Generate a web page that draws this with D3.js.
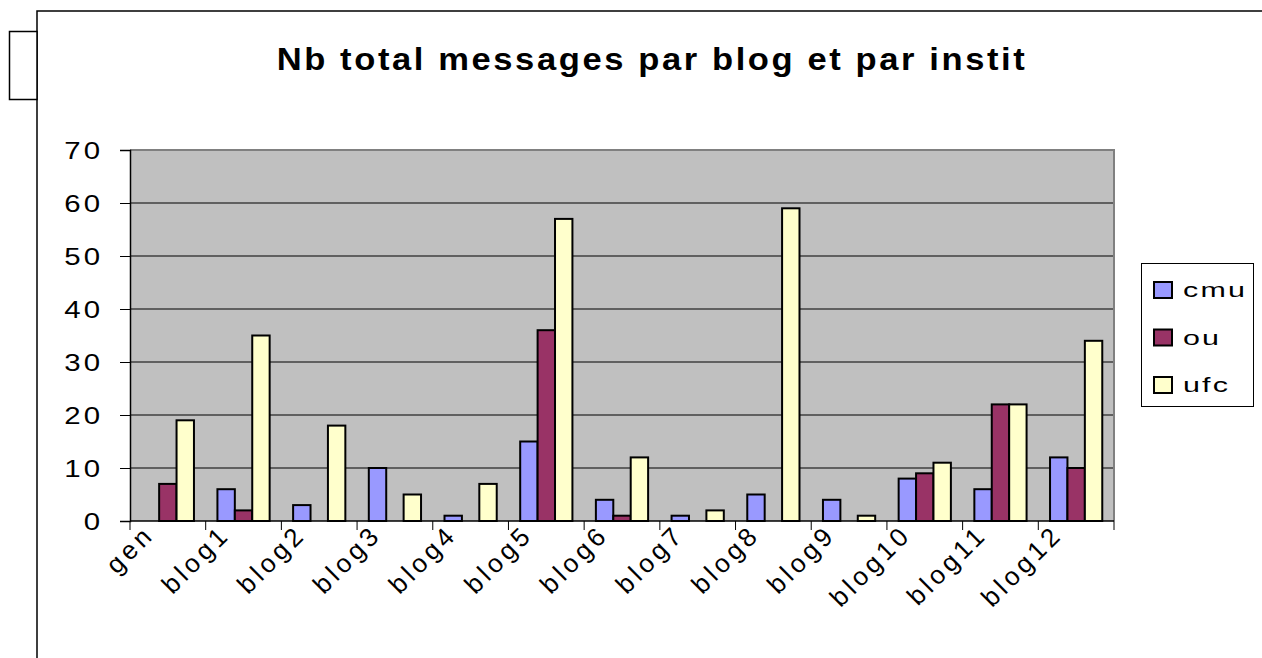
<!DOCTYPE html>
<html>
<head>
<meta charset="utf-8">
<script src="https://cdn.jsdelivr.net/npm/d3@7"></script>
<style>
  body { margin: 0; background: #fff; }
  svg { display: block; font-family: Arial, "Liberation Sans", sans-serif; }
</style>
</head>
<body>
<svg id="chart" width="1262" height="658"></svg>
<script>
'use strict'

const categories = ["gen","blog1","blog2","blog3","blog4","blog5","blog6","blog7","blog8","blog9","blog10","blog11","blog12"]
const seriesNames = ["cmu","ou","ufc"]
const cmu = [0,6,3,10,1,15,4,1,5,4,8,6,12]
const ou  = [7,2,0,0,0,36,1,0,0,0,9,22,10]
const ufc = [19,35,18,5,7,57,12,2,59,1,11,22,34]
const yTicks = [0,10,20,30,40,50,60,70]
const colors = {cmu:"#9999FF", ou:"#993366", ufc:"#FFFFCC"}

const values = {cmu, ou, ufc}
const rows = categories.map((c,i) => ({cat:c, vals: seriesNames.map(s => ({key:s, value:values[s][i]}))}))

const svg = d3.select("#chart")
const plot = {left:130, right:1114, top:150, bottom:521}

// the source renders its text wide, so stretch glyphs a bit horizontally
function wideText(parent, x, y, sx, txt){
  return parent.append("text")
    .attr("transform",`translate(${x},${y}) scale(${sx},1)`)
    .text(txt)
}

// outer frame bits (top + left edge of the chart area, small box at left)
svg.append("path").attr("d","M37,658 L37,11 L1262,11")
  .attr("fill","none").attr("stroke","#000").attr("stroke-width",1.5)
svg.append("rect").attr("x",9.5).attr("y",31.5).attr("width",27.5).attr("height",68)
  .attr("fill","#fff").attr("stroke","#000").attr("stroke-width",1.5)

wideText(svg, 652, 70, 1.08, "Nb total messages par blog et par instit")
  .attr("text-anchor","middle")
  .attr("font-size",32).attr("font-weight","bold").attr("letter-spacing",2.4)

const x0 = d3.scaleBand().domain(categories).range([plot.left,plot.right]).paddingInner(0.31).paddingOuter(0.155)
const x1 = d3.scaleBand().domain(seriesNames).range([0,x0.bandwidth()])
const y = d3.scaleLinear().domain([0,70]).range([plot.bottom,plot.top])
const step = x0.step()

// plot background
svg.append("rect").attr("x",plot.left).attr("y",plot.top)
  .attr("width",plot.right-plot.left).attr("height",plot.bottom-plot.top)
  .attr("fill","#C0C0C0")

// gridlines
svg.append("g").selectAll("line").data(yTicks.filter(d => d>0 && d<70)).join("line")
  .attr("x1",plot.left).attr("x2",plot.right)
  .attr("y1",d=>y(d)).attr("y2",d=>y(d))
  .attr("stroke","#000").attr("stroke-width",1)

// border top/right
svg.append("path").attr("d",`M${plot.left},${plot.top} L${plot.right},${plot.top} L${plot.right},${plot.bottom}`)
  .attr("fill","none").attr("stroke","#808080").attr("stroke-width",2)

// bars
const groups = svg.append("g").selectAll("g").data(rows).join("g")
  .attr("transform",d=>`translate(${x0(d.cat)},0)`)
groups.selectAll("rect").data(d=>d.vals.filter(v=>v.value>0)).join("rect")
  .attr("x",d=>x1(d.key)).attr("width",x1.bandwidth())
  .attr("y",d=>y(d.value)).attr("height",d=>y(0)-y(d.value))
  .attr("fill",d=>colors[d.key]).attr("stroke","#000").attr("stroke-width",2)

// y axis
const yAxis = d3.axisLeft(y).tickValues(yTicks).tickSize(10).tickFormat("")
const gy = svg.append("g").attr("transform",`translate(${plot.left},0)`).call(yAxis)
gy.select(".domain").attr("stroke","#000").attr("stroke-width",1.5)
gy.selectAll(".tick line").attr("stroke","#000")
const gyl = svg.append("g").attr("font-size",24.5).attr("letter-spacing",2.5).attr("text-anchor","end")
yTicks.forEach(t => wideText(gyl, 103, y(t)+8.8, 1.2, t))

// x axis: ticks at category boundaries
const bounds = d3.range(categories.length+1).map(i => plot.left + i*step)
svg.append("line").attr("x1",plot.left).attr("x2",plot.right)
  .attr("y1",plot.bottom).attr("y2",plot.bottom).attr("stroke","#000").attr("stroke-width",1.5)
svg.append("g").selectAll("line").data(bounds).join("line")
  .attr("x1",d=>d).attr("x2",d=>d).attr("y1",plot.bottom).attr("y2",plot.bottom+9)
  .attr("stroke","#000").attr("stroke-width",1)

svg.append("g").selectAll("text").data(categories).join("text")
  .attr("transform",d=>`translate(${x0(d)+x0.bandwidth()/2-12},536) rotate(-45)`)
  .attr("text-anchor","end")
  .attr("font-size",26).attr("letter-spacing",4)
  .text(d=>d)

// legend
const legend = svg.append("g")
legend.append("rect").attr("x",1141.5).attr("y",263.5).attr("width",112).attr("height",143)
  .attr("fill","#fff").attr("stroke","#000").attr("stroke-width",1)
const li = legend.selectAll("g").data(seriesNames).join("g")
  .attr("transform",(d,i)=>`translate(1154,${282+i*47.5})`)
li.append("rect").attr("width",18).attr("height",16)
  .attr("fill",d=>colors[d]).attr("stroke","#000").attr("stroke-width",2)
li.append("text").attr("transform","translate(29,15) scale(1.45,1)")
  .attr("font-size",21).attr("letter-spacing",1.5)
  .text(d=>d)
</script>
</body>
</html>
